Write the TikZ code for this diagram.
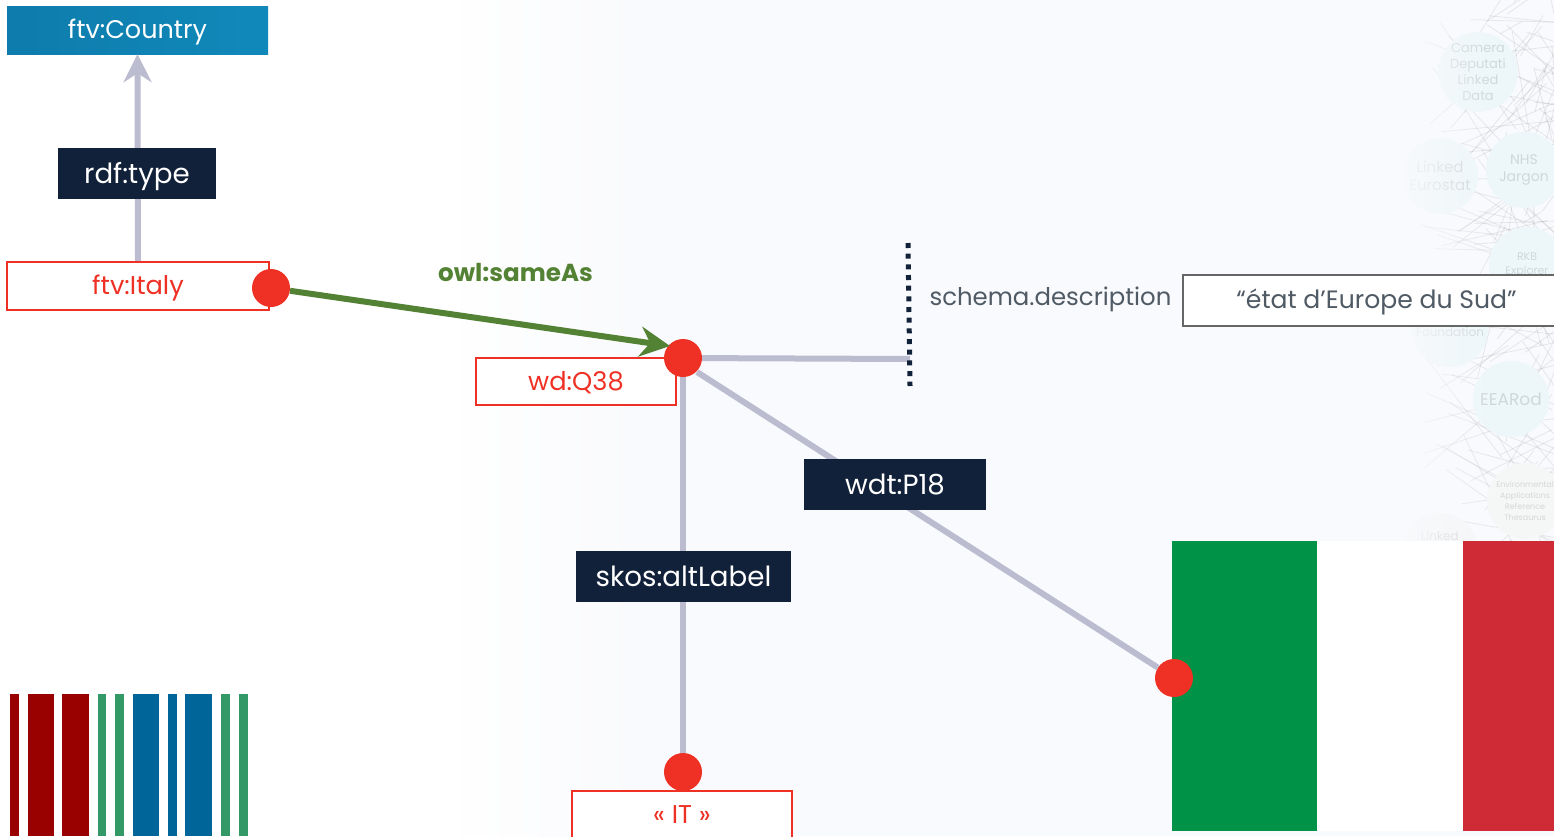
\documentclass[tikz,border=0pt]{standalone}
\usepackage{fontspec}
\setmainfont{Poppins}
\usetikzlibrary{arrows.meta,fadings}
\definecolor{rouge}{HTML}{EE3124}
\definecolor{nuit}{HTML}{12213A}
\definecolor{lien}{HTML}{BCBCD0}
\definecolor{vert}{HTML}{548235}
\definecolor{texte}{HTML}{4F5A64}
\definecolor{fond}{HTML}{F9FAFD}
\definecolor{bulle}{HTML}{EDF7F9}
\definecolor{bulleb}{HTML}{F5F6F6}
\definecolor{wikirouge}{HTML}{990000}
\definecolor{wikivert}{HTML}{339966}
\definecolor{wikibleu}{HTML}{006699}
\definecolor{flagvert}{HTML}{009246}
\definecolor{flagrouge}{HTML}{CE2B37}
\definecolor{paysa}{HTML}{0E7CAC}
\definecolor{paysb}{HTML}{1089BA}
\tikzset{
	libelle/.style={inner sep=0pt,text height=18pt,text depth=0pt,text=#1,font=\fontsize{25}{30}\selectfont},
	libelle/.default={texte},
	ressource/.style={libelle=rouge,draw=rouge,fill=white,line width=2.4pt,minimum height=48pt,text height=17pt,font=\fontsize{25.7}{30}\selectfont},
	propriete/.style={libelle=white,fill=nuit,minimum height=51pt,text height=19pt,font=\fontsize{27.7}{32}\selectfont},
	point/.style={circle,fill=rouge,minimum size=38pt,inner sep=0pt},
	lien/.style={draw=lien,line width=6pt},
	bande/.style={fill=#1,draw=none},
	bulle/.style={circle,fill=bulle,text opacity=.16,text=black!80,minimum size=76pt,inner sep=0pt,align=center,font=\fontsize{#1}{\the\numexpr#1+3\relax}\selectfont},
	bulle/.default={14}
}
\begin{document}
\begin{tikzpicture}[x=1pt,y=-1pt]
\useasboundingbox (0,0) rectangle (1554,836);
\fill[white] (0,0) rectangle (440,836);
\fill[left color=white,right color=fond] (440,0) rectangle (640,836);
\fill[fond] (640,0) rectangle (1554,836);
% watermark
\pgfmathsetseed{38}
\begin{scope}
\clip (1410,0) rectangle (1554,545);
\foreach \i in {1,...,190}{
	\pgfmathsetmacro{\xa}{1420+rnd*170}
	\pgfmathsetmacro{\ya}{rnd*545}
	\pgfmathsetmacro{\xb}{1500+rnd*130}
	\pgfmathsetmacro{\yb}{\ya+(rnd-.5)*220}
	\draw[black!60,opacity=.13,line width=.8pt] (\xa,\ya) -- (\xb,\yb);
}
\end{scope}
\node[bulle=13] (camera) at (1478,72) {Camera\\Deputati\\Linked\\Data};
\node[bulle=14] (nhs) at (1524,170) {NHS\\Jargon};
\node[bulle=15] (eurostat) at (1440,176) {Linked\\Eurostat};
\node[bulle=11] (rkb) at (1527,265) {RKB\\Explorer};
\node[bulle=12] (foundation) at (1450,329) {~\\Foundation};
\node[bulle=17] (eearod) at (1511,399) {EEARod};
\node[bulle=8,fill=bulleb] (environmental) at (1525,501) {Environmental\\Applications\\Reference\\Thesaurus};
\node[bulle=12,fill=bulleb] (linked) at (1440,551) {Linked\\~\\~};
\fill[fond,path fading=east] (1392,0) rectangle (1490,545);
% logo
\foreach \xa/\xb/\c in {10/19/wikirouge,27.5/54/wikirouge,62/89/wikirouge,97.5/106/wikivert,115/124/wikivert,133/159/wikibleu,167.5/177/wikibleu,185/212/wikibleu,221/230/wikivert,239/248/wikivert}
	\fill[bande=\c] (\xa,694) rectangle (\xb,836);
% flag
\fill[bande=flagvert] (1172,541) rectangle (1318,831);
\fill[bande=white] (1317,541) rectangle (1463,831);
\fill[bande=flagrouge] (1463,541) rectangle (1554,831);
% boxes
\node[libelle=white,minimum width=261pt,minimum height=48pt,text height=16pt,left color=paysa,right color=paysb,font=\fontsize{25.5}{30}\selectfont] (country) at (137.5,30) {ftv:Country};
\node[ressource,minimum width=262pt] (italy) at (138,286) {ftv:Italy};
\node[ressource,minimum width=200pt,minimum height=47pt] (q38) at (576,381.5) {wd:Q38};
\node[ressource,minimum width=220pt] (it) at (682,815) {« IT »};
\node[draw=black!60,fill=white,line width=1.5pt,minimum width=390pt,minimum height=51pt,inner sep=0pt] (etat) at (1378,300.5) {};
\node[libelle,font=\fontsize{25.1}{30}\selectfont] (etattexte) at (1376.5,299) {“état d’Europe du Sud”};
% points
\node[point] (pitaly) at (271,288) {};
\node[point] (pq38) at (683,358) {};
\node[point] (pflag) at (1174,678) {};
\node[point] (pit) at (683,772) {};
\coordinate (ptip) at (670,346);
\coordinate (dq38) at (697,372);
\coordinate (dtop) at (908,243);
\coordinate (dbot) at (910,386);
\coordinate (dmid) at (910,359);
% connectors
\draw[lien,-{Stealth[length=28pt,width=28pt,inset=9pt]}] (italy.north) -- (country.south);
\draw[lien] (pq38) -- (dmid);
\draw[lien] (dq38) -- (pflag);
\draw[lien] (pq38) -- (pit);
\draw[vert,line width=6pt,-{Stealth[length=30pt,width=30pt,inset=10pt]}] (pitaly) -- (ptip);
\draw[nuit,line width=5pt,dash pattern=on 5pt off 5.67pt] (dtop) -- (dbot);
% labels
\node[propriete,minimum width=158pt] (rdftype) at (137,173.5) {rdf:type};
\node[propriete,minimum width=215pt] (altlabel) at (683.5,576.5) {skos:altLabel};
\node[propriete,minimum width=182pt] (p18) at (895,484.5) {wdt:P18};
\node[libelle=vert,font=\bfseries\fontsize{24.6}{28}\selectfont] (sameas) at (515.5,272) {owl:sameAs};
\node[libelle,font=\fontsize{24.4}{30}\selectfont] (description) at (1050.5,296) {schema.description};
\end{tikzpicture}
\end{document}
